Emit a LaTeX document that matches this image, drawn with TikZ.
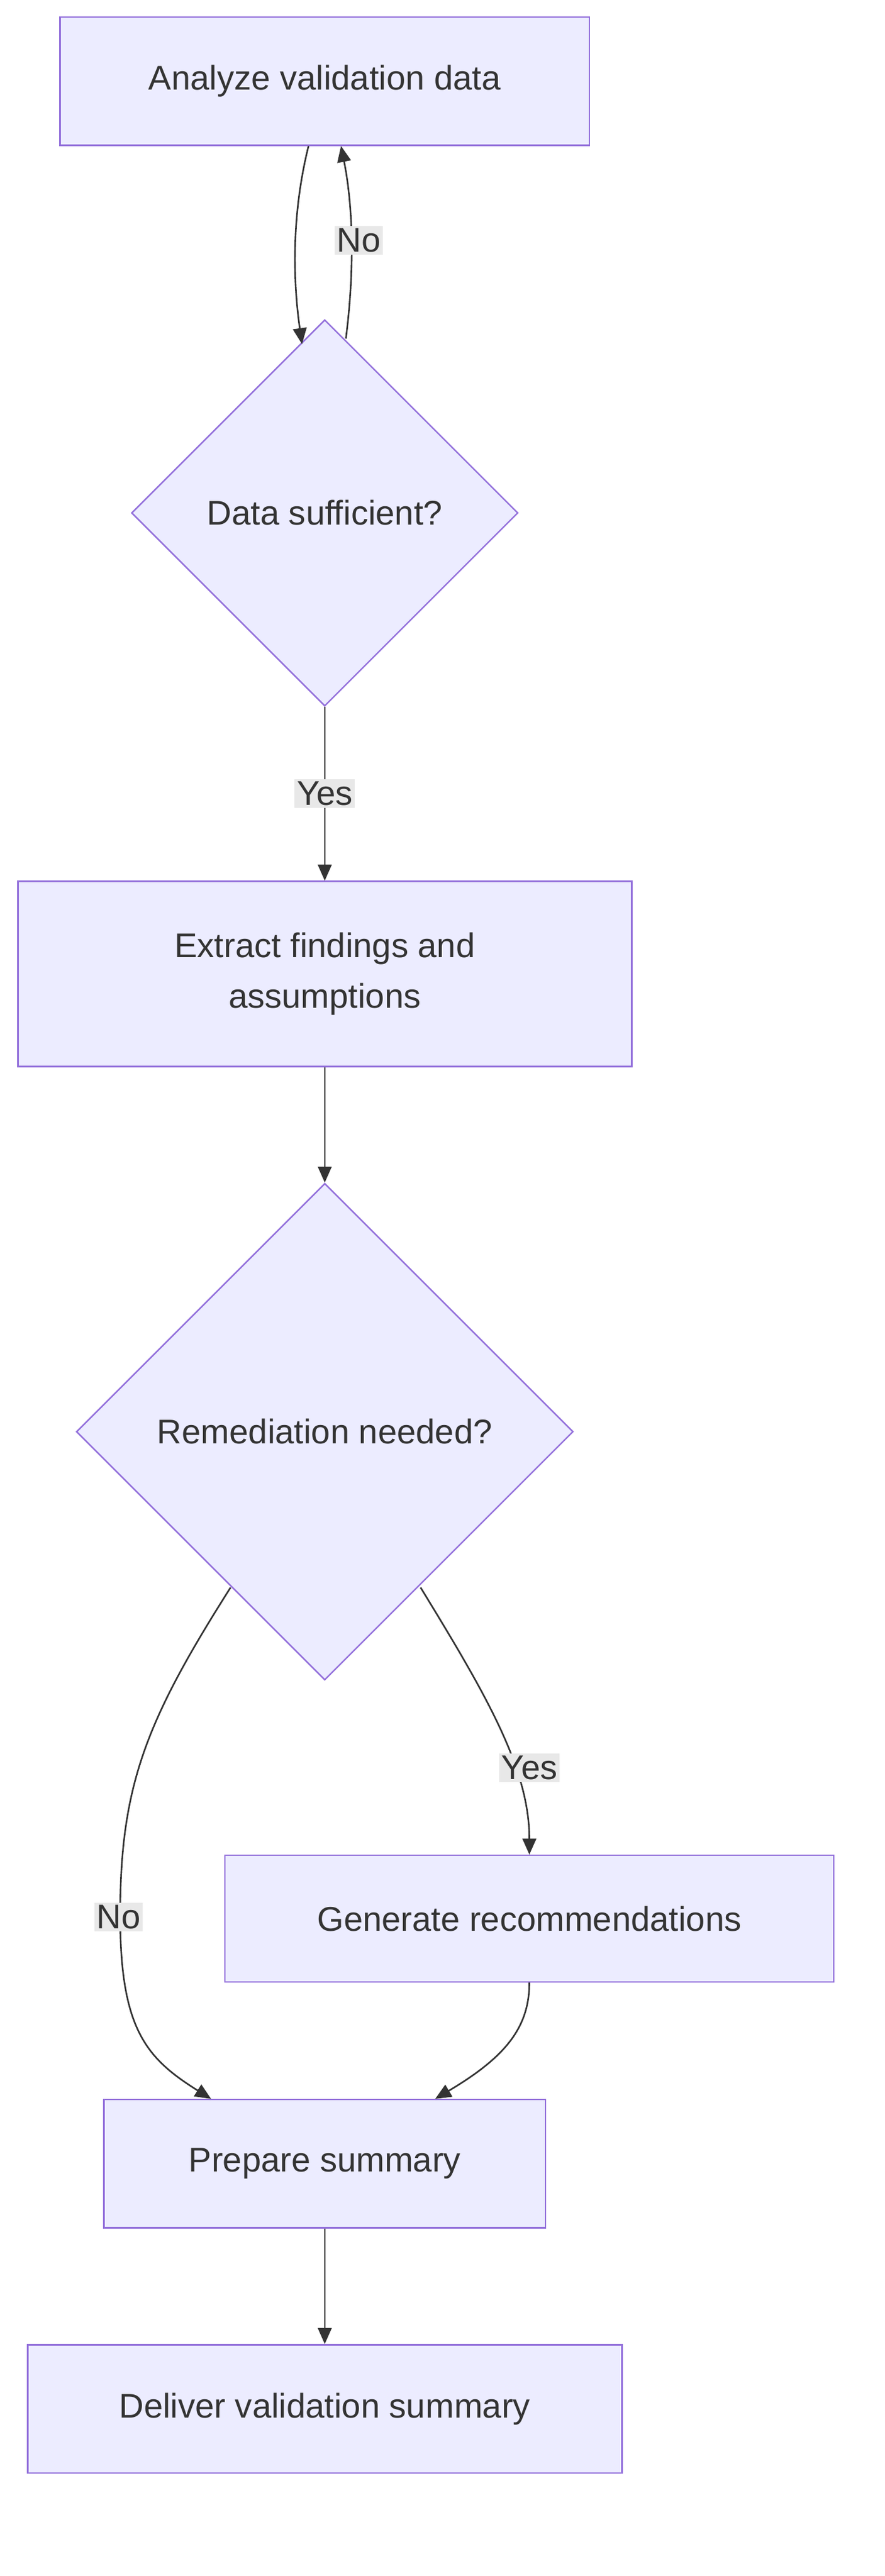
\documentclass[tikz,border=0pt]{standalone}
\usepackage{fontspec}
\setmainfont{Liberation Sans}
\usetikzlibrary{shapes.geometric,arrows.meta,calc}
\definecolor{nfill}{HTML}{ECECFF}
\definecolor{nline}{HTML}{9370DB}
\definecolor{eline}{HTML}{333333}
\definecolor{lbg}{HTML}{E8E8E8}
\begin{document}
\begin{tikzpicture}[x=0.05cm,y=-0.05cm,
  base/.style={fill=nfill,draw=nline,line width=1.3pt,text=eline,font=\fontsize{30}{44}\selectfont,align=center},
  box/.style={base,rectangle,inner sep=0pt},
  dia/.style={base,diamond,aspect=1,inner sep=0pt},
  edge/.style={draw=eline,line width=1.4pt,-{Triangle[length=14pt,width=12pt]}},
  lab/.style={fill=lbg,text=eline,font=\fontsize{30}{36}\selectfont,inner sep=2pt}]
\useasboundingbox (0,0) rectangle (545,1587);
\node[box,minimum width=326cm/20,minimum height=79cm/20] (a) at (200,50) {Analyze validation data};
\node[dia,minimum width=238cm/20,minimum height=238cm/20] (d1) at (200,316) {Data sufficient?};
\node[box,minimum width=378cm/20,minimum height=114cm/20] (e) at (200,600) {Extract findings and\\assumptions};
\node[dia,minimum width=306cm/20,minimum height=306cm/20] (d2) at (200,882) {Remediation needed?};
\node[box,minimum width=375cm/20,minimum height=78cm/20] (g) at (326,1182) {Generate recommendations};
\node[box,minimum width=272cm/20,minimum height=79cm/20] (p) at (200,1333) {Prepare summary};
\node[box,minimum width=366cm/20,minimum height=79cm/20] (dl) at (200,1484) {Deliver validation summary};
\draw[edge] ($(a.south)+(-10,0)$) .. controls (180,130) and (180,170) .. (186,212);
\draw[edge] ($(d1.north)+(13,12)$) .. controls (218,170) and (218,130) .. ($(a.south)+(10,0)$);
\node[lab] (ln) at (221,148) {No};
\draw[edge] (d1.south) -- (e.north);
\node[lab] (ly) at (200,489) {Yes};
\draw[edge] (e.south) -- (d2.north);
\draw[edge] (142,978) .. controls (90,1060) and (74,1100) .. (74,1180) .. controls (74,1250) and (90,1268) .. ($(p.north)+(-70,0)$);
\node[lab] (ln2) at (73,1181) {No};
\draw[edge] (259,978) .. controls (300,1045) and (326,1090) .. (g.north);
\node[lab] (ly2) at (326,1089) {Yes};
\draw[edge] (g.south) .. controls (326,1250) and (310,1268) .. ($(p.north)+(68,0)$);
\draw[edge] (p.south) -- (dl.north);
\end{tikzpicture}
\end{document}
